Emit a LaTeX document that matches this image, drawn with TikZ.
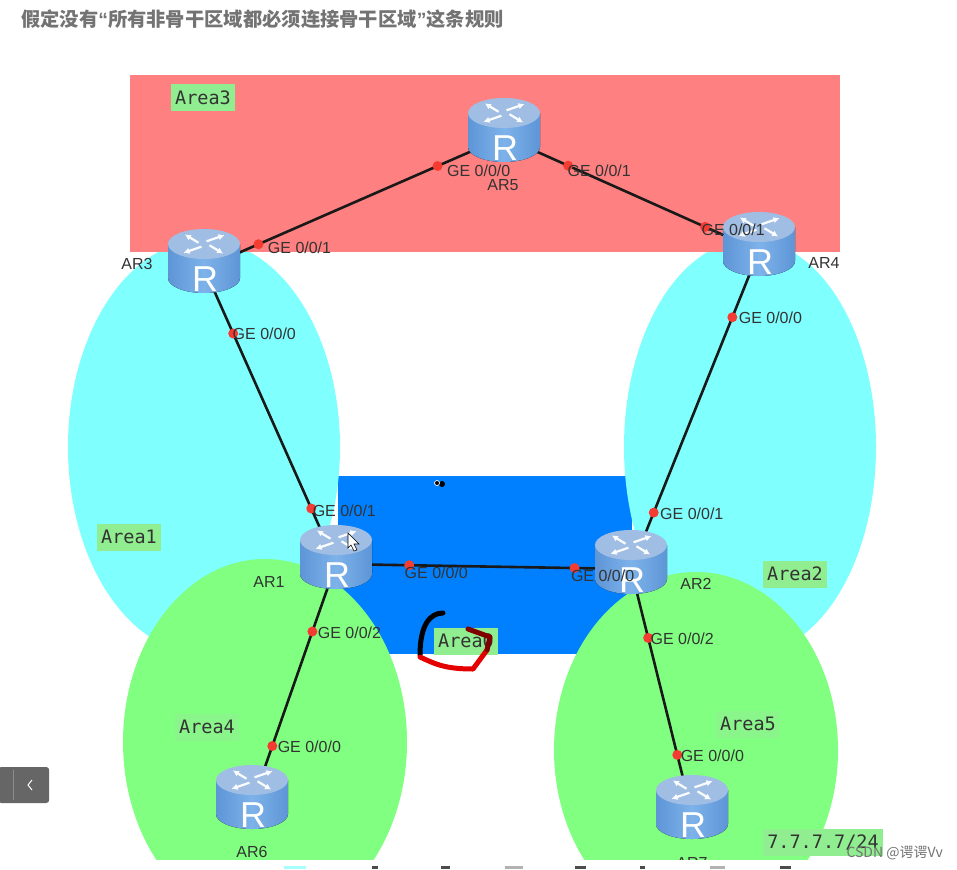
\documentclass[tikz,border=0pt]{standalone}
\usepackage{fontspec}
\setmainfont{Liberation Sans}
\setmonofont{DejaVu Sans Mono}
\newfontfamily\cjkfont{Noto Sans CJK SC}
\usepackage{tikz}
\usetikzlibrary{arrows.meta, positioning, calc}

\definecolor{areared}{HTML}{FF8080}
\definecolor{areacyan}{HTML}{80FFFF}
\definecolor{areablue}{HTML}{0080FF}
\definecolor{areagreen}{HTML}{80FF80}
\definecolor{tagbg}{HTML}{90EE90}
\definecolor{portred}{HTML}{F53C32}
\definecolor{routerdark}{HTML}{5E95D6}
\definecolor{routerlight}{HTML}{7DB2EA}
\definecolor{routertop}{HTML}{A0BEE4}

\newcommand{\routericon}[1]{%
  \begin{scope}[shift={(#1)}]
    \fill [left color=routerdark, right color=routerdark, middle color=routerlight]
      (-36,-24) -- (-36,10) arc[start angle=180, end angle=0, x radius=36, y radius=15]
      -- (36,-24) -- cycle;
    \fill [routertop] (0,-24) ellipse[x radius=36, y radius=15];
    \begin{scope}[shift={(0,-24)}]
      \foreach \ang in {25,115,205,295}
        \draw [white!95!routertop, line width=2.2pt, -{Latex[length=6pt,width=6.5pt]}]
          (\ang:6 and 3) -- (\ang+22:28 and 13);
    \end{scope}
    \node [white, inner sep=0pt, font=\fontsize{36}{36}\selectfont] at (1,11) {R};
  \end{scope}
}

\begin{document}
\begin{tikzpicture}[x=1pt, y=-1pt]
\tikzset{
  routernode/.style={inner sep=0pt, minimum size=1pt},
  link/.style={line width=2.6pt, black!90},
  portdot/.style={circle, fill=portred, minimum size=10pt, inner sep=0pt},
  portlabel/.style={font=\fontsize{16}{16}\selectfont, inner sep=0pt, text=black!80},
  namelabel/.style={font=\fontsize{16}{16}\selectfont, inner sep=0pt, text=black!80},
  areatag/.style={fill=tagbg, font=\ttfamily\fontsize{18.5}{19}\selectfont, inner sep=0pt,
    minimum width=64pt, minimum height=27pt, text=black!80},
  dimtag/.style={areatag, fill=tagbg!60!areagreen},
}
\useasboundingbox (0,0) rectangle (957,869);
\fill [white] (0,0) rectangle (957,869);

% areas
\begin{scope}
\clip (0,0) rectangle (957,859);
\fill [areablue] (338,476) rectangle (632,654);
\fill [areacyan] (204,447) ellipse[x radius=136, y radius=207];
\fill [areacyan] (750,447) ellipse[x radius=126, y radius=207];
\fill [areared] (130,75) rectangle (840,252);
\fill [areagreen] (265,742) ellipse[x radius=142, y radius=183];
\fill [areagreen] (696,750) ellipse[x radius=142, y radius=178];
\end{scope}

\node (title) [anchor=west, inner sep=0pt, text=black!55, font=\cjkfont\bfseries\fontsize{19.3}{20}\selectfont] at (21,19)
  {假定没有{\rmfamily “}所有非骨干区域都必须连接骨干区域{\rmfamily ”}这条规则};

\node (ar3) [routernode] at (204,268) {};
\node (ar5) [routernode] at (504,137) {};
\node (ar4) [routernode] at (759,251) {};
\node (ar1) [routernode] at (336,564) {};
\node (ar2) [routernode] at (631,569) {};
\node (ar6) [routernode] at (252,804) {};
\node (ar7) [routernode] at (692,814) {};

% links and their port dots
\draw [link] (ar3) -- node (p3r) [portdot, pos=.18] {} node (p5l) [portdot, pos=.78] {} (ar5);
\draw [link] (ar5) -- node (p5r) [portdot, pos=.25] {} node (p4l) [portdot, pos=.79] {} (ar4);
\draw [link] (ar3) -- node (p3d) [portdot, pos=.22] {} node (p1u) [portdot, pos=.814] {} (ar1);
\draw [link] (ar4) -- node (p4d) [portdot, pos=.207] {} node (p2u) [portdot, pos=.824] {} (ar2);
\draw [link] (ar1) -- node (p1r) [portdot, pos=.247] {} node (p2l) [portdot, pos=.81] {} (ar2);
\draw [link] (ar1) -- node (p1d) [portdot, pos=.28] {} node (p6u) [portdot, pos=.76] {} (ar6);
\draw [link] (ar2) -- node (p2d) [portdot, pos=.28] {} node (p7u) [portdot, pos=.76] {} (ar7);

\foreach \r in {ar1,ar2,ar3,ar4,ar5,ar6,ar7} {\routericon{\r}}

% port labels
\node (l3r) [portlabel, right=3pt of p3r, yshift=-4pt] {GE 0/0/1};
\node (l5l) [portlabel, right=3pt of p5l, yshift=-5pt] {GE 0/0/0};
\node (l5r) [portlabel, right=-7pt of p5r, yshift=-5pt] {GE 0/0/1};
\node (l4l) [portlabel, right=-10pt of p4l, yshift=-3pt] {GE 0/0/1};
\node (l3d) [portlabel, right=-7pt of p3d] {GE 0/0/0};
\node (l1u) [portlabel, right=-5pt of p1u, yshift=-2pt] {GE 0/0/1};
\node (l4d) [portlabel, right=0pt of p4d, yshift=-1pt] {GE 0/0/0};
\node (l2u) [portlabel, right=0pt of p2u, yshift=-1pt] {GE 0/0/1};
\node (l1r) [portlabel, right=-11pt of p1r, yshift=-8pt] {GE 0/0/0};
\node (l2l) [portlabel, right=-10pt of p2l, yshift=-8pt] {GE 0/0/0};
\node (l1d) [portlabel, right=-1pt of p1d, yshift=-1pt] {GE 0/0/2};
\node (l6u) [portlabel, right=-1pt of p6u, yshift=-1pt] {GE 0/0/0};
\node (l2d) [portlabel, right=-4pt of p2d, yshift=-1pt] {GE 0/0/2};
\node (l7u) [portlabel, right=-3pt of p7u, yshift=-1pt] {GE 0/0/0};

% router names
\node (n5) [namelabel] at (503,185) {AR5};
\node (n3) [namelabel] at (137,264) {AR3};
\node (n4) [namelabel] at (824,263) {AR4};
\node (n1) [namelabel] at (269,582) {AR1};
\node (n2) [namelabel] at (696,584) {AR2};
\node (n6) [namelabel] at (252,852) {AR6};
\begin{scope}
\clip (600,830) rectangle (800,859);
\node (n7) [namelabel] at (692,863) {AR7};
\end{scope}

% area tags
\node (t3) [areatag] at (203,98) {Area3};
\node (t1) [areatag] at (129,537) {Area1};
\node (t2) [areatag] at (795,574) {Area2};
\node (t4) [dimtag] at (207,727) {Area4};
\node (t5) [dimtag] at (748,724) {Area5};
\node (t0) [areatag] at (466,641) {Area0};
\node (tip) [areatag, minimum width=120pt] at (823,842) {7.7.7.7/24};

% pen marks round the Area0 tag
\draw [line width=5pt, line cap=round, black] (443,613) .. controls (430,613) and (420,625) .. (420,655);
\draw [line width=5pt, line cap=round, red!90!black, line join=round] (420,657) .. controls (435,664) and (445,669) .. (473,669) -- (487,650);
\draw [line width=5pt, line cap=round, red!50!black, line join=round] (487,650) -- (490,637) -- (468,629);

% mouse cursor and marks
\draw [black, fill=white, line width=.6pt] (348,533) -- (348,548) -- (351,545) -- (354,551) -- (357,550) -- (354,544) -- (359,544) -- cycle;
\fill [black] (442,484) circle (3);
\draw [white, fill=black, line width=.7pt] (437,483) circle (2.5);

% side button
\node (pager) [anchor=west, fill=black!60, rounded corners=3pt, minimum width=51pt, minimum height=36pt, inner sep=0pt] at (-2,785) {};
\draw [black!45, line width=.7pt] (13,770) -- (13,800);
\draw [white, line width=1pt] (32,780) -- (28,785) -- (32,790);

% cut off line of text below the shot
\fill [areacyan!70!white] (284,866) rectangle (306,869);
\fill [black!70] (372,866) rectangle (378,869);
\fill [black!70] (441,866) rectangle (450,869);
\fill [black!30] (505,866) rectangle (523,869);
\fill [black!70] (575,866) rectangle (586,869);
\fill [black!70] (640,866) rectangle (645,869);
\fill [black!30] (710,866) rectangle (725,869);
\fill [black!70] (780,866) rectangle (791,869);

\node (mark) [anchor=east, inner sep=0pt, text=black!55, font=\cjkfont\fontsize{14}{14}\selectfont] at (943,853) {CSDN @谔谔Vv};
\end{tikzpicture}
\end{document}
